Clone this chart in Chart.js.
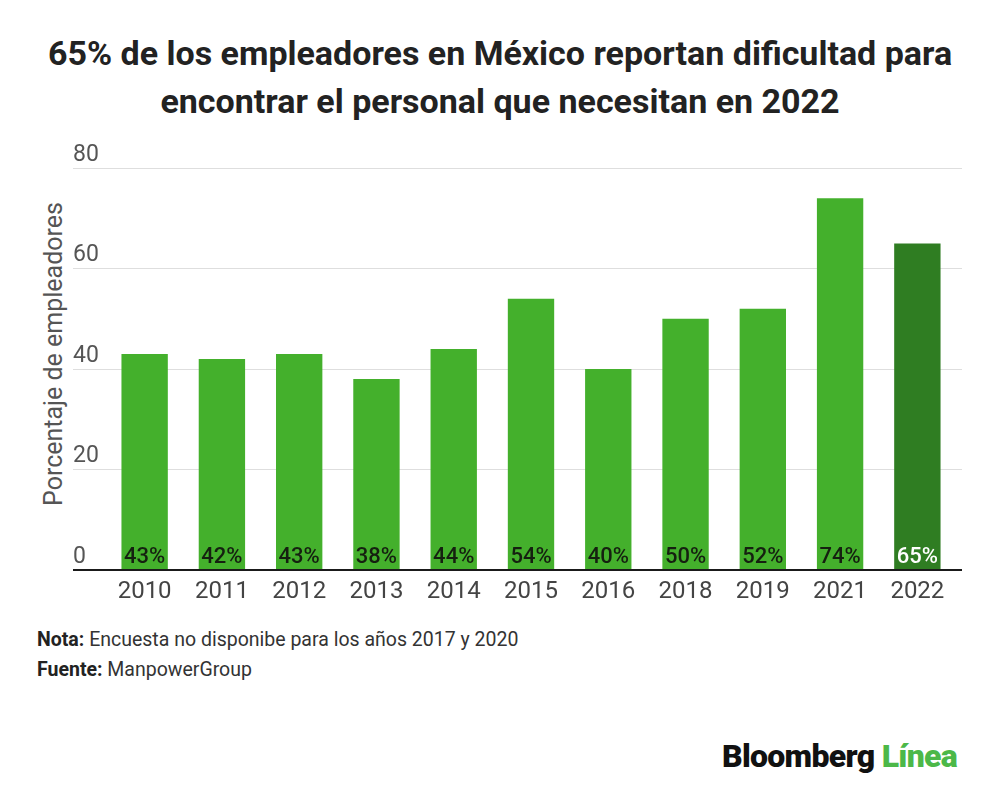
<!DOCTYPE html>
<html>
<head>
<meta charset="utf-8">
<script src="https://cdn.jsdelivr.net/npm/chart.js@4.4.1/dist/chart.umd.min.js"></script>
<style>
  html, body { margin: 0; padding: 0; background: #fff; }
  body { width: 1000px; height: 794px; position: relative; overflow: hidden; font-family: Roboto, "Noto Sans", sans-serif; }
  #title { position: absolute; left: 0; top: 29px; width: 1000px; text-align: center; font-size: 34px; font-weight: 700; line-height: 48px; color: #222; white-space: nowrap; }
  #ytitle { position: absolute; left: 53px; top: 354px; transform: translate(-50%, -50%) rotate(-90deg); white-space: nowrap; font-size: 25px; color: #555; }
  #wrap { position: absolute; left: 0; top: 140px; width: 1000px; height: 480px; }
  .foot { position: absolute; left: 37px; font-size: 19.5px; color: #333; white-space: nowrap; }
  .foot b { font-weight: 700; color: #222; }
  #logo { position: absolute; left: 722px; top: 737px; font-size: 32px; font-weight: 900; letter-spacing: -0.7px; white-space: nowrap; }
  #logo .b { color: #111; }
  #logo .l { color: #4cb848; }
</style>
</head>
<body>
<div id="title">65% de los empleadores en México reportan dificultad para<br>encontrar el personal que necesitan en 2022</div>
<div id="ytitle">Porcentaje de empleadores</div>
<div id="wrap"><canvas id="c"></canvas></div>
<div class="foot" style="top:628px"><b>Nota:</b> Encuesta no disponibe para los años 2017 y 2020</div>
<div class="foot" style="top:658px"><b>Fuente:</b> ManpowerGroup</div>
<div id="logo"><span class="b">Bloomberg</span> <span class="l">Línea</span></div>
<script>
const years = ["2010","2011","2012","2013","2014","2015","2016","2018","2019","2021","2022"];
const values = [43, 42, 43, 38, 44, 54, 40, 50, 52, 74, 65];
const valueLabels = ["43%","42%","43%","38%","44%","54%","40%","50%","52%","74%","65%"];
const yTicks = [0, 20, 40, 60, 80];

const LIGHT = "#44b02c";
const DARK = "#2f7d22";
const barColors = years.map((y, i) => i === years.length - 1 ? DARK : LIGHT);
const labelColors = years.map((y, i) => i === years.length - 1 ? "#ffffff" : "#152010");

const gridColor = ctx => (ctx.tick && ctx.tick.value === 0) ? "#1a1a1a" : "#dedede";
const gridWidth = ctx => (ctx.tick && ctx.tick.value === 0) ? 2 : 1;

const barLabels = {
  id: "barLabels",
  afterDatasetsDraw(chart) {
    const ctx = chart.ctx;
    const meta = chart.getDatasetMeta(0);
    const base = chart.scales.y.getPixelForValue(0);
    ctx.save();
    ctx.font = "500 22px Roboto";
    ctx.textAlign = "center";
    ctx.textBaseline = "middle";
    meta.data.forEach((bar, i) => {
      ctx.fillStyle = labelColors[i];
      ctx.fillText(valueLabels[i], bar.x, base - 13);
    });
    ctx.restore();
  }
};

new Chart(document.getElementById("c"), {
  type: "bar",
  data: {
    labels: years,
    datasets: [{
      data: values,
      backgroundColor: barColors,
      borderWidth: 0,
      barPercentage: 0.6,
      categoryPercentage: 1.0
    }]
  },
  options: {
    responsive: true,
    maintainAspectRatio: false,
    animation: false,
    events: [],
    layout: { padding: { left: 73, right: 38, top: 28, bottom: 0 } },
    plugins: { legend: { display: false }, tooltip: { enabled: false } },
    scales: {
      x: {
        grid: { display: false },
        border: { display: true, color: "#1a1a1a", width: 2 },
        ticks: { color: "#444", font: { family: "Roboto", size: 24 }, padding: 0, maxRotation: 0, autoSkip: false },
        afterFit(s) { s.height = 50; }
      },
      y: {
        position: "left",
        min: 0, max: 80,
        afterBuildTicks(s) { s.ticks = yTicks.map(v => ({ value: v })); },
        grid: { color: gridColor, lineWidth: gridWidth, drawTicks: true, tickLength: 33 },
        border: { display: false },
        ticks: { color: "#555", font: { family: "Roboto", size: 23 }, crossAlign: "far", labelOffset: -13, padding: 0 },
        afterFit(s) { s.width = 33; }
      },
      y2: {
        position: "right",
        min: 0, max: 80,
        afterBuildTicks(s) { s.ticks = yTicks.map(v => ({ value: v })); },
        grid: { color: gridColor, lineWidth: gridWidth, drawOnChartArea: false, drawTicks: true, tickLength: 6 },
        border: { display: false },
        ticks: { display: false },
        afterFit(s) { s.width = 6; }
      }
    }
  },
  plugins: [barLabels]
});
</script>
</body>
</html>
